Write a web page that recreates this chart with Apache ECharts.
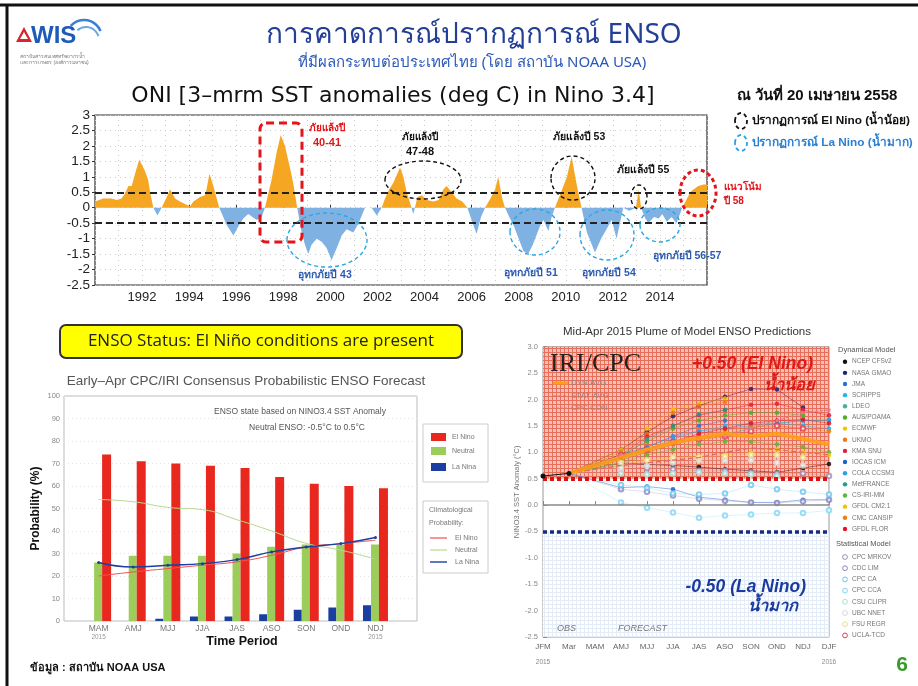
<!DOCTYPE html>
<html>
<head>
<meta charset="utf-8">
<script src="https://cdn.jsdelivr.net/npm/echarts@6/dist/echarts.min.js"></script>
<style>
  html, body { margin: 0; padding: 0; background: #fff; }
  #chart { width: 918px; height: 686px; }
</style>
</head>
<body>
<div id="chart"></div>
<script>
// ONI 3-month running mean, [year, anomaly degC] (incl. zero crossings)
const oniData = [
  [1990.00, 0.2], [1990.35, 0.3], [1990.70, 0.3], [1990.92, 0.25], [1991.13, 0.3],
  [1991.27, 0.45], [1991.42, 0.7], [1991.56, 0.7], [1991.70, 1.1], [1991.88, 1.55],
  [1992.12, 1.2], [1992.26, 0.9], [1992.34, 0.5], [1992.48, 0], [1992.65, -0.25],
  [1992.83, 0], [1993.05, 0.35], [1993.19, 0.6], [1993.40, 0.3], [1993.61, 0.2],
  [1993.89, 0.1], [1994.04, 0.05], [1994.18, 0.2], [1994.46, 0.35], [1994.67, 0.4],
  [1994.74, 0.6], [1994.86, 1.1], [1995.03, 0.7], [1995.17, 0.3], [1995.28, 0],
  [1995.59, -0.55], [1995.88, -0.9], [1996.09, -0.6], [1996.30, -0.35], [1996.51, -0.2],
  [1996.87, -0.4], [1997.08, -0.3], [1997.22, 0], [1997.50, 0.9], [1997.72, 1.8],
  [1997.89, 2.35], [1998.07, 2.0], [1998.28, 1.3], [1998.42, 0.8], [1998.59, 0],
  [1998.78, -0.8], [1998.92, -1.2], [1999.06, -1.5], [1999.20, -1.2], [1999.42, -1.0],
  [1999.63, -1.1], [1999.84, -1.3], [2000.05, -1.7], [2000.27, -1.3], [2000.48, -0.9],
  [2000.69, -0.7], [2000.97, -0.8], [2001.20, -0.5], [2001.47, 0], [2001.75, 0],
  [2001.97, -0.25], [2002.18, 0], [2002.32, 0.3], [2002.50, 0.6], [2002.67, 0.8],
  [2002.96, 1.3], [2003.10, 1.0], [2003.24, 0.5], [2003.45, 0], [2003.52, -0.2],
  [2003.59, 0], [2003.70, 0.35], [2003.88, 0.4], [2004.10, 0.25], [2004.37, 0.2],
  [2004.60, 0.25], [2004.80, 0.6], [2004.94, 0.7], [2005.15, 0.5], [2005.36, 0.3],
  [2005.60, 0.2], [2005.82, 0], [2006.00, -0.4], [2006.21, -0.85], [2006.40, -0.3],
  [2006.57, 0], [2006.80, 0.3], [2007.00, 0.6], [2007.13, 1.0], [2007.30, 0.3],
  [2007.42, 0], [2007.60, -0.3], [2007.80, -0.6], [2008.00, -1.0], [2008.20, -1.4],
  [2008.40, -1.5], [2008.60, -1.2], [2008.90, -0.6], [2009.05, -0.4], [2009.26, -0.75],
  [2009.40, -0.3], [2009.54, 0], [2009.80, 0.5], [2010.05, 1.0], [2010.25, 1.65],
  [2010.45, 0.8], [2010.67, 0], [2010.90, -0.8], [2011.24, -1.45], [2011.50, -1.0],
  [2011.80, -0.6], [2011.95, -0.4], [2012.16, -1.0], [2012.30, -0.5], [2012.44, 0],
  [2012.70, -0.1], [2012.98, 0], [2013.10, 0.6], [2013.20, 0], [2013.35, -0.3],
  [2013.50, -0.5], [2013.75, -0.3], [2013.95, -0.35], [2014.10, -0.2], [2014.29, -0.45],
  [2014.50, -0.3], [2014.70, -0.5], [2014.85, -0.2], [2014.95, 0], [2015.15, 0.3],
  [2015.35, 0.55], [2015.63, 0.7], [2015.85, 0.75], [2016.00, 0.75]
];
const oniThresholds = [0.5, -0.5];

// CPC/IRI probabilistic forecast (%)
const probSeasons = ['MAM', 'AMJ', 'MJJ', 'JJA', 'JAS', 'ASO', 'SON', 'OND', 'NDJ'];
const probYears = ['2015', '', '', '', '', '', '', '', '2015'];
const probLaNina = [0, 0, 1, 2, 2, 3, 5, 6, 7];
const probNeutral = [26, 29, 29, 29, 30, 33, 34, 34, 34];
const probElNino = [74, 71, 70, 69, 68, 64, 61, 60, 59];
const climElNino = [20, 21.8, 23.3, 24.8, 26.3, 29.2, 32.9, 34.4, 35.9];
const climNeutral = [54, 53, 50.5, 49.5, 45, 40, 34.5, 31.5, 27.5];
const climLaNina = [26, 24, 24.8, 25.5, 27.3, 30.7, 32.9, 34.4, 37.1];

// model plume (degC), forecasts for AMJ..DJF
const plumeSeasons = ['JFM', 'Mar', 'MAM', 'AMJ', 'MJJ', 'JJA', 'JAS', 'ASO', 'SON', 'OND', 'NDJ', 'DJF'];
const plumeYears = ['2015', '', '', '', '', '', '', '', '', '', '', '2016'];
const obsValues = [0.55, 0.6];
const dynNames = ['NCEP CFSv2', 'NASA GMAO', 'JMA', 'SCRIPPS', 'LDEO', 'AUS/POAMA', 'ECMWF', 'UKMO',
  'KMA SNU', 'IOCAS ICM', 'COLA CCSM3', 'MetFRANCE', 'CS-IRI-MM', 'GFDL CM2.1', 'CMC CANSIP', 'GFDL FLOR'];
const dynColors = ['#111111', '#26236e', '#2a6fd6', '#24b4f0', '#4aae9c', '#4aae2a', '#f2c200', '#f07a10',
  '#e0203c', '#1e5fd0', '#2aa0e6', '#1f9e8c', '#62b43a', '#f0c20a', '#f07c0a', '#e8102a'];
const dynValues = [
  [0.8, 0.77, 0.75, 0.72, 0.68, 0.65, 0.62, 0.7, 0.78],
  [1.05, 1.38, 1.68, 1.88, 2.05, 2.2, 2.19, 1.85, null],
  [0.95, 1.1, 1.3, 1.5, 1.6, null, null, null, null],
  [0.9, 1.05, 1.25, 1.4, 1.5, 1.55, 1.55, 1.5, 1.45],
  [0.85, 1.0, 1.15, 1.25, 1.35, 1.45, 1.55, 1.6, 1.6],
  [0.95, 1.2, 1.45, 1.6, 1.7, 1.75, 1.75, 1.7, null],
  [1.05, 1.45, 1.82, 1.92, 2.02, null, null, null, null],
  [1.0, 1.35, 1.75, 1.88, 1.95, null, null, null, null],
  [0.95, 1.3, 1.5, 1.7, 1.8, 1.9, 1.92, 1.8, 1.7],
  [0.33, 0.35, 0.3, 0.15, 0.1, 0.05, 0.05, 0.1, 0.1],
  [0.9, 1.1, 1.3, 1.4, 1.45, 1.5, 1.55, 1.6, 1.62],
  [0.9, 1.25, 1.5, 1.72, 1.8, null, null, null, null],
  [0.8, 0.95, 1.05, 1.15, 1.2, 1.2, 1.15, 1.1, 1.0],
  [0.75, 0.85, 0.9, 0.92, 0.95, 1.0, 1.05, 1.0, 0.95],
  [0.85, 1.0, 1.15, 1.3, 1.42, 1.48, 1.5, 1.45, 1.4],
  [0.9, 1.05, 1.2, 1.35, 1.45, 1.55, 1.6, 1.62, 1.55]
];
const statNames = ['CPC MRKOV', 'CDC LIM', 'CPC CA', 'CPC CCA', 'CSU CLIPR', 'UBC NNET', 'FSU REGR', 'UCLA-TCD'];
const statColors = ['#9b8fb8', '#8a86c4', '#6cc6ea', '#7fd6f2', '#a6e0d8', '#d8d8d8', '#e6e08a', '#e0405a'];
const statValues = [
  [0.75, 0.7, 0.68, 0.65, 0.65, 0.62, 0.6, 0.6, 0.55],
  [0.3, 0.25, 0.18, 0.12, 0.08, 0.05, 0.04, 0.07, 0.1],
  [0.38, 0.33, 0.22, 0.2, 0.22, 0.38, 0.3, 0.25, 0.2],
  [0.05, -0.05, -0.14, -0.24, -0.2, -0.18, -0.15, -0.15, -0.1],
  [0.6, 0.58, 0.6, 0.62, 0.6, 0.58, 0.55, null, null],
  [0.7, 0.75, 0.8, 0.85, 0.85, 0.85, 0.8, 0.75, null],
  [0.8, 0.85, 0.9, 0.9, 0.92, 0.95, 0.95, 0.9, null],
  [0.95, 1.05, 1.2, 1.25, 1.3, 1.4, 1.5, 1.45, null]
];
const dynAvg = [0.9, 1.05, 1.18, 1.27, 1.35, 1.3, 1.35, 1.25, 1.15];
const statAvg = [0.75, 0.8, 0.85, 0.9, 1.0, 1.08, 1.05, 1.0, 0.95];
const cpcCon = [0.95, 1.05, 1.2, 1.25, 1.3, 1.45, 1.6, 1.75, 1.8];

const chart = echarts.init(document.getElementById('chart'));

function gridPattern(bg, line, size) {
  const c = document.createElement('canvas');
  c.width = size;
  c.height = size;
  const ctx = c.getContext('2d');
  ctx.fillStyle = bg;
  ctx.fillRect(0, 0, size, size);
  ctx.fillStyle = line;
  ctx.fillRect(0, 0, size, 1);
  ctx.fillRect(0, 0, 1, size);
  return c;
}

function txt(x, y, text, o) {
  o = o || {};
  return {
    type: 'text', silent: true, z: 100, rotation: o.rotation || 0, x: x, y: y,
    style: {
      text: text, x: 0, y: 0,
      fill: o.color || '#222',
      fontSize: o.size || 12,
      fontWeight: o.weight || 'normal',
      fontStyle: o.style || 'normal',
      fontFamily: o.family || 'Liberation Sans, Noto Sans, sans-serif',
      align: o.align || 'left',
      verticalAlign: 'middle',
      lineHeight: o.lineHeight
    }
  };
}
function ell(cx, cy, rx, ry, color, w) {
  return {
    type: 'ellipse', silent: true, z: 90,
    shape: { cx: cx, cy: cy, rx: rx, ry: ry },
    style: { fill: 'none', stroke: color, lineWidth: w || 1.6, lineDash: [4, 3] }
  };
}

// model series for the plume: start from the last monthly obs, then forecast
function plumeData(vals) {
  return [null, { value: obsValues[1], symbol: 'none' }, null].concat(vals);
}
const plumeSeries = [];
dynNames.forEach((n, i) => {
  plumeSeries.push({
    name: n, type: 'line', xAxisIndex: 2, yAxisIndex: 2, connectNulls: true,
    data: plumeData(dynValues[i]), symbol: 'circle', symbolSize: 4.5,
    itemStyle: { color: dynColors[i], opacity: 0.85 },
    lineStyle: { width: 1, opacity: 0.45, color: dynColors[i] }, z: 3
  });
});
statNames.forEach((n, i) => {
  plumeSeries.push({
    name: n, type: 'line', xAxisIndex: 2, yAxisIndex: 2, connectNulls: true,
    data: plumeData(statValues[i]), symbol: 'emptyCircle', symbolSize: 4.5,
    itemStyle: { color: statColors[i], borderWidth: 1, opacity: 0.8 },
    lineStyle: { width: 0.8, opacity: 0.35, color: statColors[i] }, z: 3
  });
});
plumeSeries.push({
  name: 'STAT AVG', type: 'line', xAxisIndex: 2, yAxisIndex: 2, connectNulls: true,
  data: plumeData(statAvg), symbol: 'none',
  lineStyle: { width: 1.2, type: [5, 3], color: '#d86a6a' }, z: 4
});
plumeSeries.push({
  name: 'CPC CON', type: 'line', xAxisIndex: 2, yAxisIndex: 2, connectNulls: true,
  data: plumeData(cpcCon), symbol: 'rect', symbolSize: 3,
  itemStyle: { color: '#e07a90' },
  lineStyle: { width: 1.2, type: [3, 2], color: '#e07a90' }, z: 4
});
plumeSeries.push({
  name: 'DYN AVG', type: 'line', xAxisIndex: 2, yAxisIndex: 2, connectNulls: true,
  data: plumeData(dynAvg), symbol: 'none',
  lineStyle: { width: 4, color: '#ffa010', opacity: 0.85 }, z: 5
});
plumeSeries.push({
  name: 'OBS', type: 'line', xAxisIndex: 2, yAxisIndex: 2,
  data: obsValues, symbol: 'circle', symbolSize: 5,
  itemStyle: { color: '#111' }, lineStyle: { width: 1, color: '#111' }, z: 6,
  markArea: {
    silent: true,
    data: [
      [{ yAxis: 0.5, itemStyle: { color: { image: gridPattern('#f6c0b4', '#e86e5c', 4), repeat: 'repeat' } } }, { yAxis: 3 }],
      [{ yAxis: -2.5, itemStyle: { color: { image: gridPattern('#ffffff', '#e4edf7', 4), repeat: 'repeat' } } }, { yAxis: -0.5 }]
    ]
  },
  markLine: {
    silent: true, symbol: 'none', label: { show: false },
    data: [
      { yAxis: 0, lineStyle: { color: '#888', width: 1.5, type: 'solid' } },
      { yAxis: 0.5, lineStyle: { color: '#e01010', width: 4, type: [4, 3] } },
      { yAxis: -0.5, lineStyle: { color: '#1a2a80', width: 3.5, type: [4, 3] } }
    ]
  }
});

// legend rows for the plume (drawn by hand, two groups)
const plumeLegend = [];
plumeLegend.push(txt(838, 350, 'Dynamical Model', { size: 7.5, color: '#555' }));
dynNames.forEach((n, i) => {
  const y = 361.7 + i * 11.15;
  plumeLegend.push({ type: 'circle', silent: true, z: 100, shape: { cx: 845, cy: y, r: 2.2 }, style: { fill: dynColors[i] } });
  plumeLegend.push(txt(852, y, n, { size: 6.5, color: '#777' }));
});
plumeLegend.push(txt(836, 544, 'Statistical Model', { size: 7.5, color: '#555' }));
statNames.forEach((n, i) => {
  const y = 557 + i * 11.2;
  plumeLegend.push({ type: 'circle', silent: true, z: 100, shape: { cx: 845, cy: y, r: 2.4 }, style: { fill: '#fff', stroke: statColors[i], lineWidth: 1 } });
  plumeLegend.push(txt(852, y, n, { size: 6.5, color: '#777' }));
});

const graphic = [
  // slide frame
  { type: 'line', silent: true, shape: { x1: 0, y1: 5, x2: 918, y2: 5 }, style: { stroke: '#111', lineWidth: 3 } },
  { type: 'line', silent: true, shape: { x1: 7, y1: 5, x2: 7, y2: 686 }, style: { stroke: '#111', lineWidth: 3 } },
  // logo
  { type: 'polygon', silent: true, shape: { points: [[24, 27], [16, 42], [32, 42]] }, style: { fill: '#d8262e' } },
  { type: 'polygon', silent: true, shape: { points: [[24, 32], [20, 39], [28, 39]] }, style: { fill: '#fff' } },
  txt(31, 36, 'WIS', { size: 24, weight: 'bold', color: '#1e5bb8', family: 'Liberation Sans' }),
  { type: 'arc', silent: true, shape: { cx: 84, cy: 38, r: 18, startAngle: -2.4, endAngle: -0.4 }, style: { stroke: '#3a7fd0', lineWidth: 2.5, fill: 'none' } },
  { type: 'arc', silent: true, shape: { cx: 86, cy: 40, r: 13, startAngle: -2.3, endAngle: -0.3 }, style: { stroke: '#6aa9e6', lineWidth: 2, fill: 'none' } },
  txt(20, 57, 'สถาบันสารสนเทศทรัพยากรน้ำ', { size: 5, color: '#777' }),
  txt(20, 63, 'และการเกษตร (องค์การมหาชน)', { size: 5, color: '#777' }),
  // header
  txt(474, 35, 'การคาดการณ์ปรากฏการณ์ ENSO', { size: 28, color: '#233f96', align: 'center', family: 'Noto Sans, sans-serif' }),
  txt(472, 63, 'ที่มีผลกระทบต่อประเทศไทย (โดย สถาบัน NOAA USA)', { size: 15, color: '#2a58b8', align: 'center', family: 'Noto Sans, sans-serif' }),
  txt(393, 96, 'ONI [3–mrm SST anomalies (deg C) in Nino 3.4]', { size: 22, color: '#111', align: 'center', family: 'DejaVu Sans, sans-serif' }),
  txt(817, 96, 'ณ วันที่ 20 เมษายน 2558', { size: 15, weight: 'bold', color: '#111', align: 'center' }),
  ell(741, 121, 6, 8, '#111', 1.8),
  txt(752, 121, 'ปรากฏการณ์ El Nino (น้ำน้อย)', { size: 11.8, weight: 'bold', color: '#111' }),
  ell(741, 143, 6, 8, '#2aa0e6', 1.8),
  txt(752, 143, 'ปรากฏการณ์ La Nino (น้ำมาก)', { size: 11.8, weight: 'bold', color: '#2a7fd4' }),
  // ONI annotations
  { type: 'rect', silent: true, z: 90, shape: { x: 260, y: 123, width: 42, height: 119, r: 6 }, style: { fill: 'none', stroke: '#e3151a', lineWidth: 3, lineDash: [8, 5] } },
  txt(327, 128, 'ภัยแล้งปี', { size: 10, weight: 'bold', color: '#e3151a', align: 'center' }),
  txt(327, 143, '40-41', { size: 11, weight: 'bold', color: '#e3151a', align: 'center' }),
  ell(327, 240, 40, 27, '#2aa6e0', 1.4),
  txt(325, 275, 'อุทกภัยปี 43', { size: 10.5, weight: 'bold', color: '#2a5ab0', align: 'center' }),
  txt(420, 137, 'ภัยแล้งปี', { size: 10, weight: 'bold', color: '#111', align: 'center' }),
  txt(420, 152, '47-48', { size: 11, weight: 'bold', color: '#111', align: 'center' }),
  ell(423, 180, 38, 19, '#111', 1.4),
  txt(579, 137, 'ภัยแล้งปี 53', { size: 10.5, weight: 'bold', color: '#111', align: 'center' }),
  ell(573, 178, 22, 22, '#111', 1.4),
  txt(643, 170, 'ภัยแล้งปี 55', { size: 10.5, weight: 'bold', color: '#111', align: 'center' }),
  ell(639, 197, 8, 12, '#111', 1.4),
  ell(698, 193, 18, 23, '#e3151a', 3),
  txt(724, 187, 'แนวโน้ม', { size: 10, weight: 'bold', color: '#e3151a' }),
  txt(724, 201, 'ปี 58', { size: 10, weight: 'bold', color: '#e3151a' }),
  ell(535, 232, 25, 23, '#2aa6e0', 1.4),
  ell(607, 235, 27, 25, '#2aa6e0', 1.4),
  ell(660, 225, 20, 17, '#2aa6e0', 1.4),
  txt(531, 273, 'อุทกภัยปี 51', { size: 10.5, weight: 'bold', color: '#2a5ab0', align: 'center' }),
  txt(609, 273, 'อุทกภัยปี 54', { size: 10.5, weight: 'bold', color: '#2a5ab0', align: 'center' }),
  txt(687, 256, 'อุทกภัยปี 56-57', { size: 10.5, weight: 'bold', color: '#2a5ab0', align: 'center' }),
  // ENSO status box
  { type: 'rect', silent: true, shape: { x: 60, y: 325, width: 402, height: 33, r: 6 }, style: { fill: '#ffff00', stroke: '#333', lineWidth: 2 } },
  txt(261, 341, 'ENSO Status: El Niño conditions are present', { size: 17, color: '#222', align: 'center', family: 'Open Sans, sans-serif' }),
  txt(246, 381, 'Early–Apr CPC/IRI Consensus Probabilistic ENSO Forecast', { size: 13.5, color: '#555', align: 'center' }),
  txt(300, 412, 'ENSO state based on NINO3.4 SST Anomaly', { size: 8.5, color: '#555', align: 'center' }),
  txt(307, 428, 'Neutral ENSO: -0.5°C to 0.5°C', { size: 8.5, color: '#555', align: 'center' }),
  txt(242, 642, 'Time Period', { size: 12.5, weight: 'bold', color: '#111', align: 'center' }),
  // bar legend boxes
  { type: 'rect', silent: true, shape: { x: 423, y: 424, width: 65, height: 58 }, style: { fill: '#fff', stroke: '#ccc', lineWidth: 1 } },
  { type: 'rect', silent: true, shape: { x: 431, y: 433, width: 15, height: 8 }, style: { fill: '#e8281e' } },
  txt(452, 437, 'El Nino', { size: 7, color: '#777' }),
  { type: 'rect', silent: true, shape: { x: 431, y: 447, width: 15, height: 8 }, style: { fill: '#9ccc5a' } },
  txt(452, 451, 'Neutral', { size: 7, color: '#777' }),
  { type: 'rect', silent: true, shape: { x: 431, y: 463, width: 15, height: 8 }, style: { fill: '#1a3fa0' } },
  txt(452, 467, 'La Nina', { size: 7, color: '#777' }),
  { type: 'rect', silent: true, shape: { x: 423, y: 501, width: 65, height: 72 }, style: { fill: '#fff', stroke: '#ccc', lineWidth: 1 } },
  txt(429, 510, 'Climatological', { size: 7, color: '#777' }),
  txt(429, 523, 'Probability:', { size: 7, color: '#777' }),
  { type: 'line', silent: true, shape: { x1: 430, y1: 538, x2: 447, y2: 538 }, style: { stroke: '#f05050', lineWidth: 1.2 } },
  txt(455, 538, 'El Nino', { size: 7, color: '#777' }),
  { type: 'line', silent: true, shape: { x1: 430, y1: 550, x2: 447, y2: 550 }, style: { stroke: '#b8d890', lineWidth: 1.2 } },
  txt(455, 550, 'Neutral', { size: 7, color: '#777' }),
  { type: 'line', silent: true, shape: { x1: 430, y1: 562, x2: 447, y2: 562 }, style: { stroke: '#1a3fa0', lineWidth: 1.4 } },
  txt(455, 562, 'La Nina', { size: 7, color: '#777' }),
  // plume texts
  txt(687, 332, 'Mid-Apr 2015 Plume of Model ENSO Predictions', { size: 11.5, color: '#333', align: 'center' }),
  txt(550, 364, 'IRI/CPC', { size: 26, color: '#222', family: 'Liberation Serif, serif' }),
  { type: 'line', silent: true, z: 100, shape: { x1: 553, y1: 383, x2: 568, y2: 383 }, style: { stroke: '#ffa010', lineWidth: 3 } },
  txt(571, 383, 'DYN AVG', { size: 8, color: '#888' }),
  { type: 'line', silent: true, z: 100, shape: { x1: 553, y1: 396, x2: 568, y2: 396 }, style: { stroke: '#d86a6a', lineWidth: 1, lineDash: [3, 2] } },
  txt(571, 396, 'STAT AVG', { size: 8, color: '#888' }),
  { type: 'line', silent: true, z: 100, shape: { x1: 553, y1: 408, x2: 568, y2: 408 }, style: { stroke: '#e07a90', lineWidth: 1, lineDash: [2, 2] } },
  txt(571, 408, 'CPC CON', { size: 8, color: '#888' }),
  txt(813, 364, '+0.50 (El Nino)', { size: 17.5, weight: 'bold', style: 'italic', color: '#e01818', align: 'right' }),
  txt(815, 385, 'น้ำน้อย', { size: 16.5, weight: 'bold', style: 'italic', color: '#e01818', align: 'right' }),
  txt(806, 587, '-0.50 (La Nino)', { size: 17.5, weight: 'bold', style: 'italic', color: '#1a3aa0', align: 'right' }),
  txt(798, 606, 'น้ำมาก', { size: 16.5, weight: 'bold', style: 'italic', color: '#1a3aa0', align: 'right' }),
  txt(557, 628, 'OBS', { size: 9, style: 'italic', color: '#777' }),
  txt(618, 628, 'FORECAST', { size: 9, style: 'italic', color: '#777' }),
  // footer
  txt(30, 668, 'ข้อมูล : สถาบัน NOAA USA', { size: 11, weight: 'bold', color: '#111' }),
  txt(908, 665, '6', { size: 21, weight: 'bold', color: '#3a9a2a', align: 'right' })
].concat(plumeLegend);

const option = {
  animation: false,
  backgroundColor: '#fff',
  textStyle: { fontFamily: 'Liberation Sans, Noto Sans, sans-serif' },
  grid: [
    { left: 95, top: 115, width: 612, height: 170, show: true, borderColor: '#333', borderWidth: 1.2, containLabel: false },
    { left: 64, top: 396, width: 353, height: 225, show: true, borderColor: '#bbb', borderWidth: 1, containLabel: false },
    { left: 543, top: 346.7, width: 286, height: 290.3, show: true, borderColor: '#999', borderWidth: 1, containLabel: false }
  ],
  xAxis: [
    {
      type: 'value', gridIndex: 0, min: 1990, max: 2016, interval: 2,
      axisLine: { show: false }, axisTick: { show: true, inside: true, length: 3, lineStyle: { color: '#333' } },
      axisLabel: { fontSize: 13, color: '#222', margin: 6, formatter: v => (v > 1990 && v < 2016 ? String(v) : '') },
      splitLine: { show: true, lineStyle: { color: '#ccc', type: [1, 4] } },
      minorTick: { show: false, splitNumber: 2 },
      minorSplitLine: { show: true, lineStyle: { color: '#ccc', type: [1, 4] } }
    },
    {
      type: 'value', gridIndex: 1, min: 0, max: 10.2, interval: 1,
      axisLine: { show: false }, axisTick: { show: false },
      axisLabel: {
        margin: 3, showMaxLabel: false,
        formatter: v => {
          const i = v - 1;
          if (i < 0 || i >= probSeasons.length) return '';
          return '{s|' + probSeasons[i] + '}' + (probYears[i] ? '\n{y|' + probYears[i] + '}' : '');
        },
        rich: { s: { fontSize: 8.5, color: '#777' }, y: { fontSize: 6.5, color: '#999', lineHeight: 9 } }
      },
      splitLine: { show: false }
    },
    {
      type: 'category', gridIndex: 2, data: plumeSeasons, boundaryGap: false,
      axisLine: { show: false },
      axisTick: { show: true, inside: true, length: 4, lineStyle: { color: '#888' } },
      axisLabel: {
        fontSize: 8, color: '#666', margin: 6, interval: 0,
        formatter: (v, i) => v + (plumeYears[i] ? '\n\n{y|' + plumeYears[i] + '}' : ''),
        rich: { y: { fontSize: 6.5, color: '#888' } }
      },
      splitLine: { show: false }
    }
  ],
  yAxis: [
    {
      type: 'value', gridIndex: 0, min: -2.5, max: 3, interval: 0.5,
      axisLine: { show: false }, axisTick: { show: true, length: 3, lineStyle: { color: '#333' } },
      axisLabel: { fontSize: 13.5, color: '#222', margin: 5 },
      splitLine: { show: true, lineStyle: { color: '#ccc', type: [1, 4] } }
    },
    {
      type: 'value', gridIndex: 1, min: 0, max: 100, interval: 10,
      name: 'Probability (%)', nameLocation: 'middle', nameGap: 22, nameRotate: 90,
      nameTextStyle: { fontSize: 12, fontWeight: 'bold', color: '#111' },
      axisLine: { show: false }, axisTick: { show: false },
      axisLabel: { fontSize: 7.5, color: '#888', margin: 4 },
      splitLine: { show: true, lineStyle: { color: '#e4e4e4', type: [1, 3] } }
    },
    {
      type: 'value', gridIndex: 2, min: -2.5, max: 3, interval: 0.5,
      name: 'NINO3.4 SST Anomaly (°C)', nameLocation: 'middle', nameGap: 21, nameRotate: 90,
      nameTextStyle: { fontSize: 7.5, color: '#777' },
      axisLine: { show: false }, axisTick: { show: true, inside: true, length: 4, lineStyle: { color: '#888' } },
      axisLabel: { fontSize: 7.5, color: '#888', margin: 5, formatter: v => v.toFixed(1) },
      splitLine: { show: false }
    }
  ],
  series: [
    {
      name: 'ONI +', type: 'line', xAxisIndex: 0, yAxisIndex: 0, symbol: 'none',
      data: oniData.map(d => [d[0], Math.max(d[1], 0)]),
      lineStyle: { width: 0 }, areaStyle: { color: '#f5a623', opacity: 1 }, z: 2
    },
    {
      name: 'ONI -', type: 'line', xAxisIndex: 0, yAxisIndex: 0, symbol: 'none',
      data: oniData.map(d => [d[0], Math.min(d[1], 0)]),
      lineStyle: { width: 0 }, areaStyle: { color: '#80b1e3', opacity: 1 }, z: 2,
      markLine: {
        silent: true, symbol: 'none', label: { show: false },
        lineStyle: { color: '#222', width: 1.8, type: [7, 4] },
        data: oniThresholds.map(t => ({ yAxis: t }))
      }
    },
    {
      name: 'La Nina', type: 'bar', xAxisIndex: 1, yAxisIndex: 1, barWidth: 8, barGap: '0%',
      data: probLaNina.map((v, i) => [i + 1, v]), itemStyle: { color: '#1a3fa0' }
    },
    {
      name: 'Neutral', type: 'bar', xAxisIndex: 1, yAxisIndex: 1, barWidth: 8, barGap: '0%',
      data: probNeutral.map((v, i) => [i + 1, v]), itemStyle: { color: '#9ccc5a' }
    },
    {
      name: 'El Nino', type: 'bar', xAxisIndex: 1, yAxisIndex: 1, barWidth: 9, barGap: '0%',
      data: probElNino.map((v, i) => [i + 1, v]), itemStyle: { color: '#e8281e' }
    },
    {
      name: 'Clim El Nino', type: 'line', xAxisIndex: 1, yAxisIndex: 1, smooth: true, symbol: 'none',
      data: climElNino.map((v, i) => [i + 1, v]), lineStyle: { color: '#f05050', width: 1 }, z: 4
    },
    {
      name: 'Clim Neutral', type: 'line', xAxisIndex: 1, yAxisIndex: 1, smooth: true, symbol: 'none',
      data: climNeutral.map((v, i) => [i + 1, v]), lineStyle: { color: '#b8d890', width: 1 }, z: 4
    },
    {
      name: 'Clim La Nina', type: 'line', xAxisIndex: 1, yAxisIndex: 1, smooth: true,
      symbol: 'circle', symbolSize: 3,
      data: climLaNina.map((v, i) => [i + 1, v]), itemStyle: { color: '#1a3fa0' },
      lineStyle: { color: '#1a3fa0', width: 1.4 }, z: 4
    }
  ].concat(plumeSeries),
  graphic: graphic
};

chart.setOption(option);
</script>
</body>
</html>
